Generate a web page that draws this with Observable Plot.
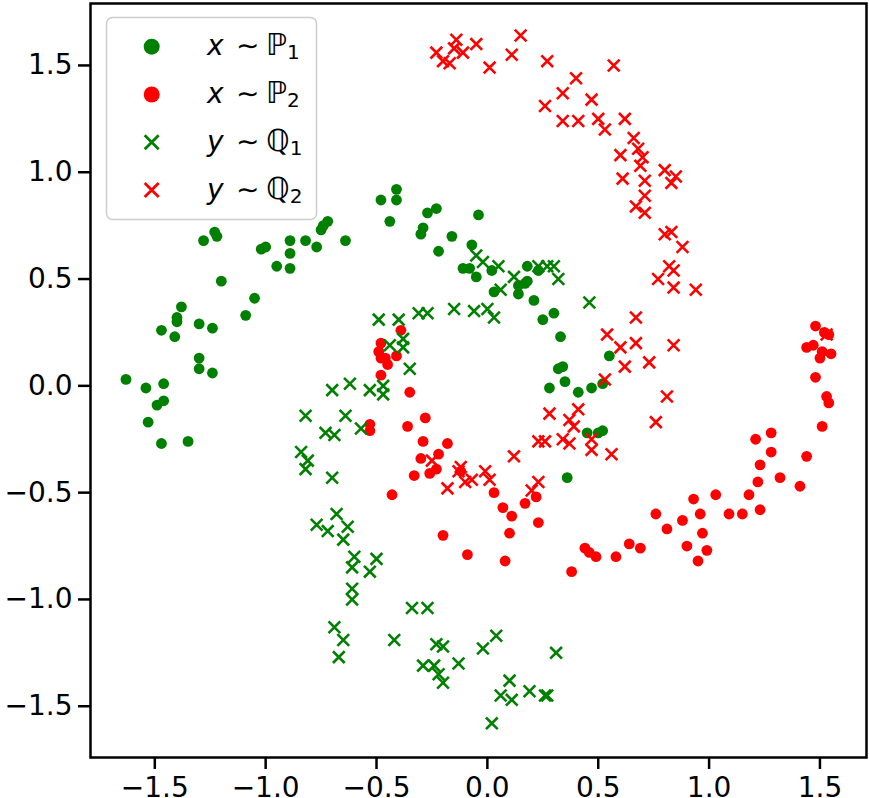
<!DOCTYPE html>
<html>
<head>
<meta charset="utf-8">
<script src="https://cdn.jsdelivr.net/npm/d3@7"></script>
<script src="https://cdn.jsdelivr.net/npm/@observablehq/plot@0.6"></script>
<style>
  html, body { margin: 0; padding: 0; background: #fff; overflow: hidden; }
  #wrap { position: relative; width: 869px; height: 798px; }
  #legend { position: absolute; left: 0; top: 0; }
  svg { display: block; }
</style>
</head>
<body>
<div id="wrap"></div>
<script>
// x ~ P1 (green dots)
const p1 = [[-1.63,0.03],[-1.54,-0.01],[-1.46,0.01],[-1.46,-0.07],[-1.49,-0.09],[-1.53,-0.17],[-1.47,-0.27],[-1.35,-0.26],[-1.30,0.08],[-1.30,0.13],[-1.24,0.06],[-1.47,0.26],[-1.41,0.23],[-1.40,0.30],[-1.40,0.32],[-1.38,0.37],[-1.30,0.29],[-1.24,0.27],[-1.20,0.49],[-1.09,0.33],[-1.05,0.41],[-0.95,0.56],[-0.89,0.55],[-0.89,0.62],[-1.02,0.64],[-1.00,0.65],[-1.28,0.68],[-1.23,0.72],[-1.22,0.70],[-0.89,0.68],[-0.82,0.68],[-0.77,0.65],[-0.75,0.73],[-0.74,0.75],[-0.72,0.77],[-0.64,0.68],[-0.48,0.87],[-0.41,0.92],[-0.41,0.87],[-0.44,0.77],[-0.27,0.81],[-0.23,0.83],[-0.29,0.74],[-0.30,0.71],[-0.16,0.70],[-0.04,0.80],[-0.22,0.63],[-0.07,0.66],[-0.11,0.55],[-0.08,0.55],[-0.05,0.51],[0.02,0.54],[0.18,0.56],[0.23,0.54],[0.03,0.44],[0.14,0.47],[0.17,0.48],[0.18,0.49],[0.14,0.43],[0.21,0.40],[0.25,0.31],[0.30,0.34],[0.33,0.23],[0.32,0.08],[0.34,0.09],[0.28,-0.01],[0.35,0.02],[0.41,-0.03],[0.47,-0.01],[0.52,0.01],[0.55,0.14],[0.45,-0.22],[0.50,-0.22],[0.52,-0.21],[0.36,-0.43]];

// x ~ P2 (red dots)
const p2 = [[-0.39,0.26],[-0.48,0.20],[-0.49,0.16],[-0.48,0.13],[-0.46,0.13],[-0.45,0.10],[-0.41,0.14],[-0.48,0.05],[-0.35,-0.03],[-0.53,-0.18],[-0.53,-0.21],[-0.36,-0.19],[-0.28,-0.15],[-0.29,-0.26],[-0.18,-0.27],[-0.22,-0.32],[-0.30,-0.34],[-0.23,-0.39],[-0.26,-0.41],[-0.33,-0.42],[-0.43,-0.51],[0.03,-0.50],[0.22,-0.52],[0.17,-0.55],[0.07,-0.57],[0.11,-0.61],[-0.12,-0.40],[-0.20,-0.70],[-0.09,-0.79],[0.08,-0.82],[0.10,-0.69],[0.23,-0.64],[0.38,-0.87],[0.44,-0.76],[0.46,-0.78],[0.49,-0.80],[0.58,-0.80],[0.64,-0.74],[0.69,-0.76],[0.76,-0.60],[0.81,-0.67],[0.88,-0.63],[0.96,-0.60],[0.97,-0.69],[0.90,-0.75],[0.99,-0.77],[0.95,-0.82],[0.93,-0.53],[1.03,-0.51],[1.09,-0.60],[1.15,-0.60],[1.23,-0.58],[1.18,-0.51],[1.22,-0.45],[1.23,-0.37],[1.28,-0.31],[1.21,-0.25],[1.28,-0.22],[1.32,-0.43],[1.41,-0.47],[1.44,-0.33],[1.51,-0.19],[1.53,-0.05],[1.54,-0.08],[1.48,0.04],[1.50,0.13],[1.44,0.18],[1.47,0.19],[1.51,0.16],[1.55,0.15],[1.48,0.28],[1.52,0.25],[1.54,0.24]];

// y ~ Q1 (green crosses)
const q1 = [[-0.05,0.61],[-0.02,0.58],[0.05,0.56],[0.12,0.51],[0.23,0.56],[0.27,0.56],[0.30,0.56],[0.32,0.50],[0.06,0.45],[0.46,0.39],[-0.49,0.31],[-0.40,0.31],[-0.31,0.34],[-0.27,0.34],[-0.15,0.36],[-0.06,0.35],[0.00,0.36],[0.03,0.32],[-0.38,0.22],[-0.44,0.19],[-0.38,0.18],[-0.35,0.08],[-0.47,0.00],[-0.47,-0.04],[-0.53,-0.02],[-0.62,0.01],[-0.70,-0.02],[-0.82,-0.14],[-0.64,-0.14],[-0.57,-0.20],[-0.73,-0.22],[-0.69,-0.23],[-0.84,-0.31],[-0.81,-0.35],[-0.82,-0.39],[-0.70,-0.43],[-0.68,-0.60],[-0.77,-0.65],[-0.72,-0.68],[-0.63,-0.66],[-0.65,-0.72],[-0.60,-0.80],[-0.61,-0.85],[-0.50,-0.81],[-0.53,-0.87],[-0.61,-0.95],[-0.61,-1.00],[-0.69,-1.13],[-0.65,-1.19],[-0.67,-1.27],[-0.34,-1.04],[-0.27,-1.04],[-0.42,-1.19],[-0.23,-1.21],[-0.20,-1.22],[-0.13,-1.30],[-0.29,-1.31],[-0.24,-1.31],[-0.22,-1.35],[-0.20,-1.39],[-0.02,-1.23],[0.04,-1.17],[0.10,-1.38],[0.06,-1.45],[0.11,-1.47],[0.19,-1.43],[0.26,-1.45],[0.27,-1.45],[0.02,-1.58],[0.31,-1.25]];

// y ~ Q2 (red crosses)
const q2 = [[-0.23,1.56],[-0.20,1.52],[-0.17,1.51],[-0.15,1.58],[-0.14,1.62],[-0.11,1.56],[-0.05,1.60],[0.01,1.49],[0.11,1.55],[0.15,1.64],[0.27,1.52],[0.40,1.44],[0.34,1.37],[0.26,1.31],[0.34,1.24],[0.41,1.24],[0.47,1.34],[0.57,1.50],[0.50,1.25],[0.53,1.20],[0.62,1.25],[0.66,1.16],[0.68,1.11],[0.70,1.07],[0.69,1.03],[0.60,1.08],[0.61,0.97],[0.71,0.96],[0.80,1.01],[0.85,0.98],[0.83,0.95],[0.71,0.89],[0.67,0.84],[0.71,0.81],[0.80,0.71],[0.83,0.72],[0.88,0.65],[0.82,0.56],[0.84,0.54],[0.77,0.50],[0.84,0.46],[0.94,0.45],[0.67,0.32],[0.54,0.24],[0.60,0.18],[0.67,0.20],[0.84,0.19],[0.73,0.11],[0.62,0.09],[0.53,0.03],[0.81,-0.05],[0.76,-0.17],[0.41,-0.11],[0.47,-0.25],[0.47,-0.30],[0.56,-0.32],[0.28,-0.13],[0.37,-0.16],[0.39,-0.19],[0.34,-0.25],[0.37,-0.27],[0.23,-0.26],[0.26,-0.26],[0.12,-0.33],[-0.12,-0.38],[-0.13,-0.40],[-0.01,-0.40],[0.01,-0.44],[-0.07,-0.44],[-0.10,-0.45],[-0.18,-0.48],[0.23,-0.45],[0.20,-0.49],[-0.25,-0.35],[1.53,0.24]];

const xTicks = [-1.5, -1.0, -0.5, 0.0, 0.5, 1.0, 1.5];
const yTicks = [-1.5, -1.0, -0.5, 0.0, 0.5, 1.0, 1.5];
const legendLabels = [
  {v: "x", dist: "ℙ", sub: "1", color: "green", kind: "dot"},
  {v: "x", dist: "ℙ", sub: "2", color: "red", kind: "dot"},
  {v: "y", dist: "ℚ", sub: "1", color: "green", kind: "times"},
  {v: "y", dist: "ℚ", sub: "2", color: "red", kind: "times"}
];

const fmt = d => d.toFixed(1).replace("-", "\u2212");
const R = 5.4;

const chart = Plot.plot({
  width: 869,
  height: 798,
  marginLeft: 90,
  marginRight: 3,
  marginTop: 3,
  marginBottom: 41,
  style: {fontFamily: "DejaVu Sans", fontSize: "28px", color: "black", background: "white"},
  x: {domain: [-1.790, 1.710]},
  y: {domain: [-1.740, 1.790]},
  marks: [
    Plot.axisX({ticks: xTicks, tickSize: 12, tickPadding: 8, strokeWidth: 2.5, tickFormat: fmt, fontSize: 28, label: null, stroke: "black", fill: "black"}),
    Plot.axisY({ticks: yTicks, tickSize: 12, tickPadding: 6, strokeWidth: 2.5, tickFormat: fmt, fontSize: 28, label: null, stroke: "black", fill: "black"}),
    Plot.dot(p1, {x: d => d[0], y: d => d[1], r: R, fill: "green"}),
    Plot.dot(p2, {x: d => d[0], y: d => d[1], r: R, fill: "red"}),
    Plot.dot(q1, {x: d => d[0], y: d => d[1], r: R, symbol: "times", stroke: "green", strokeWidth: 2.6}),
    Plot.dot(q2, {x: d => d[0], y: d => d[1], r: R, symbol: "times", stroke: "red", strokeWidth: 2.6}),
    Plot.frame({stroke: "black", strokeWidth: 2.5})
  ]
});
const wrap = document.getElementById("wrap");
wrap.appendChild(chart);

// legend overlay (inside the axes, upper left)
const ns = "http://www.w3.org/2000/svg";
const lg = document.createElementNS(ns, "svg");
lg.setAttribute("id", "legend");
lg.setAttribute("width", 869);
lg.setAttribute("height", 798);
lg.setAttribute("font-family", "DejaVu Sans");
let html = `<rect x="106.5" y="17.5" width="210" height="202" rx="6" ry="6" fill="white" fill-opacity="0.8" stroke="#cccccc" stroke-width="1.5"/>`;
const rowY = [46.7, 94.5, 142.2, 190];
legendLabels.forEach((e, i) => {
  const cy = rowY[i];
  const cx = 151.7;
  if (e.kind === "dot") {
    html += `<circle cx="${cx}" cy="${cy}" r="8" fill="${e.color}"/>`;
  } else {
    const h = 7;
    html += `<path d="M${cx-h},${cy-h}L${cx+h},${cy+h}M${cx-h},${cy+h}L${cx+h},${cy-h}" stroke="${e.color}" stroke-width="2.8" fill="none"/>`;
  }
  const by = cy + 8.5;
  html += `<text y="${by}" font-size="28" fill="black"><tspan x="207" font-style="italic">${e.v}</tspan><tspan x="236">∼</tspan><tspan x="266" font-size="30">${e.dist}</tspan><tspan dx="0" dy="4" font-size="20">${e.sub}</tspan></text>`;
});
lg.innerHTML = html;
wrap.appendChild(lg);
</script>
</body>
</html>
